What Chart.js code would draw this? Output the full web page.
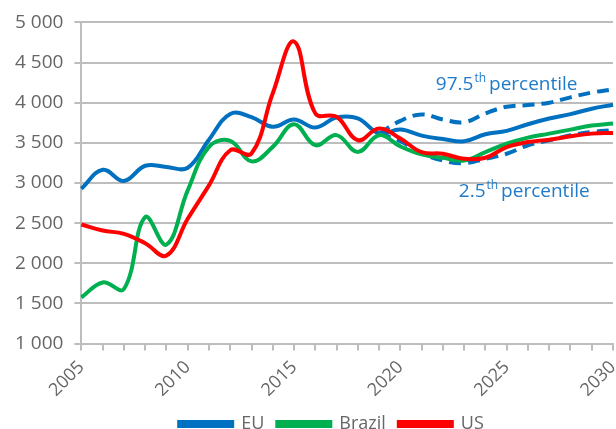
<!DOCTYPE html>
<html>
<head>
<meta charset="utf-8">
<script src="https://cdn.jsdelivr.net/npm/chart.js@4.4.0/dist/chart.umd.min.js"></script>
<style>
    html, body { margin: 0; padding: 0; background: #fff; }
    #wrap { width: 616px; height: 429px; }
</style>
</head>
<body>
<div id="wrap"><canvas id="chart-canvas"></canvas></div>
<script>
let years = ['2005', '2006', '2007', '2008', '2009', '2010', '2011', '2012', '2013', '2014', '2015', '2016', '2017',
    '2018', '2019', '2020', '2021', '2022', '2023', '2024', '2025', '2026', '2027', '2028', '2029', '2030'];

let eu = [2929, 3165, 3025, 3215, 3200, 3190, 3540, 3860, 3820, 3700, 3790, 3690, 3815,
    3805, 3617, 3665, 3590, 3548, 3519, 3607, 3649, 3732, 3803, 3858, 3925, 3975];
let brazil = [1575, 1762, 1680, 2575, 2233, 2908, 3450, 3525, 3270, 3450, 3733, 3471, 3596,
    3387, 3596, 3456, 3356, 3314, 3280, 3385, 3490, 3565, 3615, 3665, 3715, 3740];
let us = [2483, 2408, 2367, 2250, 2096, 2554, 2971, 3408, 3367, 4117, 4762, 3867, 3825,
    3533, 3679, 3554, 3385, 3364, 3301, 3314, 3448, 3510, 3540, 3582, 3615, 3623];
let euHigh = [null, null, null, null, null, null, null, null, null, null, null, null, null,
    null, 3617, 3774, 3854, 3791, 3757, 3866, 3950, 3971, 4000, 4067, 4126, 4167];
let euLow = [null, null, null, null, null, null, null, null, null, null, null, null, null,
    null, 3617, 3520, 3372, 3280, 3247, 3301, 3364, 3469, 3531, 3594, 3636, 3657];

let percentileText = ['97.5', '2.5'];

const BLUE = '#0070C0';
const GREEN = '#00B050';
const RED = '#FF0000';
const GRID = '#BDBDBD';
const TEXT = '#666666';
const FONT = "'Open Sans', sans-serif";

// text with a superscript "th", anchored in data units
let percentilePlugin = {
    id: 'percentiles',
    afterLayout(chart) {
        // legend sits a bit right of centre in the original
        chart.legend.left += 23;
        chart.legend.right += 23;
    },
    afterDatasetsDraw(chart) {
        let ctx = chart.ctx;
        let x = chart.scales.x, y = chart.scales.y;
        let spots = [[16.67, 4157], [17.75, 2822]];
        ctx.save();
        ctx.fillStyle = '#1F7BC9';
        ctx.textBaseline = 'alphabetic';
        for (let i = 0; i < percentileText.length; i++) {
            let px = x.getPixelForValue(spots[i][0]);
            let py = y.getPixelForValue(spots[i][1]);
            ctx.font = '19px ' + FONT;
            ctx.fillText(percentileText[i], px, py);
            px += ctx.measureText(percentileText[i]).width + 1;
            ctx.font = '12px ' + FONT;
            ctx.fillText('th', px, py - 8);
            px += ctx.measureText('th').width + 2;
            ctx.font = '19px ' + FONT;
            ctx.fillText(' percentile', px - 4, py);
        }
        ctx.restore();
    }
};

function line(label, data, color, order, dash) {
    return {
        label: label,
        data: data,
        borderColor: color,
        backgroundColor: color,
        borderWidth: 4,
        borderDash: dash || [],
        pointRadius: 0,
        fill: false,
        tension: 0.4,
        order: order
    };
}

let config = {
    type: 'line',
    data: {
        labels: years,
        datasets: [
            line('EU', eu, BLUE, 3),
            line('Brazil', brazil, GREEN, 2),
            line('US', us, RED, 1),
            line('high', euHigh, BLUE, 4, [12, 7]),
            line('low', euLow, BLUE, 5, [12, 7])
        ]
    },
    options: {
        responsive: true,
        maintainAspectRatio: false,
        animation: false,
        layout: {
            padding: {left: 4, right: 3, top: 12, bottom: -14}
        },
        plugins: {
            tooltip: {enabled: false},
            legend: {
                position: 'bottom',
                labels: {
                    color: TEXT,
                    font: {family: FONT, size: 18},
                    boxWidth: 53,
                    boxHeight: 4,
                    padding: 13,
                    filter: item => item.datasetIndex < 3,
                    sort: (a, b) => a.datasetIndex - b.datasetIndex
                }
            }
        },
        scales: {
            x: {
                afterFit: function (scale) {
                    // rotated labels end at the tick, no room needed on the right
                    scale.paddingRight = 0;
                    scale.height -= 5;
                },
                grid: {
                    drawOnChartArea: false,
                    drawTicks: true,
                    tickLength: 7,
                    color: GRID,
                    lineWidth: 2
                },
                border: {color: GRID, width: 2},
                ticks: {
                    autoSkip: false,
                    minRotation: 45,
                    maxRotation: 45,
                    padding: 6,
                    color: TEXT,
                    font: {family: FONT, size: 18},
                    callback: function (val, idx) {
                        let yr = parseInt(years[idx]);
                        return yr % 5 === 0 ? years[idx] : '';
                    }
                }
            },
            y: {
                min: 1000,
                max: 5000,
                grid: {
                    color: GRID,
                    lineWidth: 2,
                    tickLength: 7
                },
                border: {color: GRID, width: 2},
                ticks: {
                    stepSize: 500,
                    padding: 11,
                    color: TEXT,
                    font: {family: FONT, size: 19},
                    callback: v => v.toString().replace(/\B(?=(\d{3})+(?!\d))/g, ' ')
                }
            }
        }
    },
    plugins: [percentilePlugin]
};

let chart = new Chart(document.getElementById('chart-canvas'), config);
</script>
</body>
</html>
